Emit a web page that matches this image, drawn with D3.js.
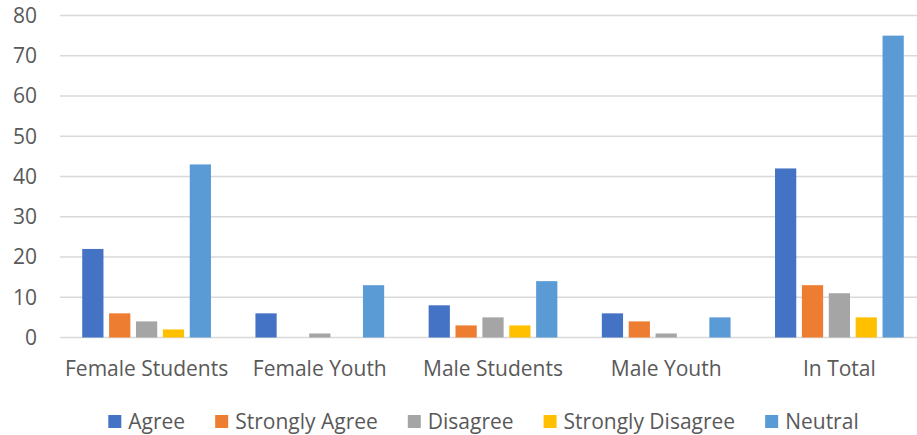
<!DOCTYPE html>
<html><head><meta charset="utf-8">
<script src="https://cdn.jsdelivr.net/npm/d3@7"></script>
<style>body{margin:0;background:#fff}svg{display:block}text{font-family:"Open Sans",sans-serif;fill:#595959}</style>
</head><body><svg id="c" width="917" height="435"></svg>
<script>
const categories = ["Female Students","Female Youth","Male Students","Male Youth","In Total"];
const seriesNames = ["Agree","Strongly Agree","Disagree","Strongly Disagree","Neutral"];
const agree = [22,6,8,6,42];
const stronglyAgree = [6,0,3,4,13];
const disagree = [4,1,5,1,11];
const stronglyDisagree = [2,0,3,0,5];
const neutral = [43,13,14,5,75];
const yTicks = [0,10,20,30,40,50,60,70,80];
const colors = ["#4472C4","#ED7D31","#A5A5A5","#FFC000","#5B9BD5"];
const seriesValues = [agree, stronglyAgree, disagree, stronglyDisagree, neutral];

(function(){
const W=917, mLeft=60, mRight=917, bandRight=926, mTop=15.5, mBottom=337.5, FS=21;
const svg=d3.select("#c");
const y=d3.scaleLinear().domain([0,80]).range([mBottom,mTop]);
const x0=d3.scaleBand().domain(categories).range([mLeft,bandRight]).padding(0);
const x1=d3.scaleBand().domain(seriesNames).range([0,x0.bandwidth()]).paddingInner(0.21).paddingOuter(0.827);

svg.append("g").selectAll("line").data(yTicks).join("line")
 .attr("x1",mLeft).attr("x2",mRight).attr("y1",d=>y(d)).attr("y2",d=>y(d))
 .attr("stroke","#D9D9D9").attr("stroke-width",1.5);

svg.append("g").selectAll("text").data(yTicks).join("text")
 .attr("x",37).attr("y",d=>y(d)).attr("dy","0.35em").attr("text-anchor","end")
 .attr("font-size",FS).text(d=>d);

const data=[];
categories.forEach((c,i)=>seriesNames.forEach((s,j)=>data.push({c,s,j,v:seriesValues[j][i]})));
svg.append("g").selectAll("rect").data(data.filter(d=>d.v>0)).join("rect")
 .attr("x",d=>x0(d.c)+x1(d.s)).attr("width",x1.bandwidth())
 .attr("y",d=>y(d.v)).attr("height",d=>y(0)-y(d.v))
 .attr("fill",d=>colors[d.j]);

svg.append("g").selectAll("text").data(categories).join("text")
 .attr("x",d=>x0(d)+x0.bandwidth()/2).attr("y",368.5).attr("dy","0.35em")
 .attr("text-anchor","middle").attr("font-size",FS).text(d=>d);

const lg=svg.append("g");
const items=lg.selectAll("g").data(seriesNames).join("g");
items.append("rect").attr("width",13).attr("height",13).attr("y",-6.5).attr("fill",(d,i)=>colors[i]);
items.append("text").attr("x",20).attr("dy","0.35em").attr("font-size",FS).text(d=>d);
let pos=0; const offs=[];
items.each(function(d){const w=d3.select(this).select("text").node().getComputedTextLength();offs.push(pos);pos+=20+w+30;});
const total=pos-30;
const startX=(W-total)/2+25;
items.attr("transform",(d,i)=>`translate(${startX+offs[i]},421.5)`);
})();
</script></body></html>
